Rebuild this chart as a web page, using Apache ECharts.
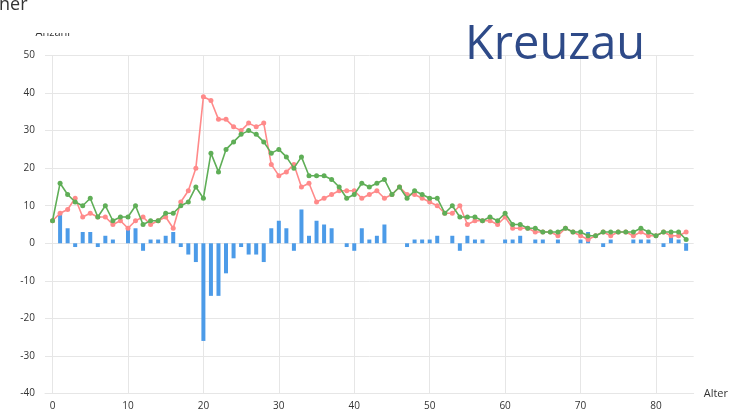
<!DOCTYPE html>
<html>
<head>
<meta charset="utf-8">
<script src="https://cdn.jsdelivr.net/npm/echarts@6/dist/echarts.min.js"></script>
<style>html,body{margin:0;padding:0;background:#fff;}#c{width:731px;height:412px;}</style>
</head>
<body>
<div id="c"></div>
<script>
const ages = [0,1,2,3,4,5,6,7,8,9,10,11,12,13,14,15,16,17,18,19,20,21,22,23,24,25,26,27,28,29,30,31,32,33,34,35,36,37,38,39,40,41,42,43,44,45,46,47,48,49,50,51,52,53,54,55,56,57,58,59,60,61,62,63,64,65,66,67,68,69,70,71,72,73,74,75,76,77,78,79,80,81,82,83,84];
const redValues = [6,8,9,12,7,8,7,7,5,6,4,6,7,5,6,7,4,11,14,20,39,38,33,33,31,30,32,31,32,21,18,19,21,15,16,11,12,13,14,14,14,12,13,14,12,13,15,13,13,12,11,10,8,8,10,5,6,6,6,5,7,4,4,4,3,3,3,2,4,3,2,1,2,3,2,3,3,2,3,2,2,3,2,2,3];
const greenValues = [6,16,13,11,10,12,7,10,6,7,7,10,5,6,6,8,8,10,11,15,12,24,19,25,27,29,30,29,27,24,25,23,20,23,18,18,18,17,15,12,13,16,15,16,17,13,15,12,14,13,12,12,8,10,7,7,7,6,7,6,8,5,5,4,4,3,3,3,4,3,3,2,2,3,3,3,3,3,4,3,2,3,3,3,1];
const barValues = [0,8,4,-1,3,3,-1,2,1,0,4,4,-2,1,1,2,3,-1,-3,-5,-26,-14,-14,-8,-4,-1,-3,-3,-5,4,6,4,-2,9,2,6,5,4,0,-1,-2,4,1,2,5,0,0,-1,1,1,1,2,0,2,-2,2,1,1,0,0,1,1,2,0,1,1,0,1,0,0,1,3,0,-1,1,0,0,1,1,1,0,-1,2,1,-2];
const yTicks = [-40,-30,-20,-10,0,10,20,30,40,50];

const pair = arr => ages.map((a, i) => [a, arr[i]]);
const chart = echarts.init(document.getElementById('c'), null, {renderer: 'canvas'});
const font = '"Open Sans", "Noto Sans", sans-serif';
chart.setOption({
  animation: false,
  backgroundColor: '#fff',
  grid: {left: 45, right: 34, top: 55.5, bottom: 18.5, containLabel: false},
  xAxis: {
    type: 'value', min: -1, max: 85, splitNumber: 9,
    name: 'Alter', nameLocation: 'end', nameGap: 10,
    nameTextStyle: {color: '#333', fontSize: 11, fontFamily: font},
    axisLine: {show: true, onZero: false, lineStyle: {color: '#e6e6e6'}},
    axisTick: {show: false},
    axisLabel: {color: '#333', fontSize: 10, fontFamily: font, margin: 8, showMinLabel: false, showMaxLabel: false},
    splitLine: {show: true, showMinLine: false, showMaxLine: false, lineStyle: {color: '#e6e6e6'}}
  },
  yAxis: {
    type: 'value', min: yTicks[0], max: yTicks[yTicks.length - 1], interval: 10,
    name: 'Anzahl', nameLocation: 'end', nameGap: 17,
    nameTextStyle: {color: '#333', fontSize: 11, fontFamily: font, align: 'left', padding: [0, 0, 0, -17]},
    axisLine: {show: false},
    axisTick: {show: false},
    axisLabel: {color: '#333', fontSize: 10, fontFamily: font, margin: 10},
    splitLine: {show: true, lineStyle: {color: '#e6e6e6'}}
  },
  graphic: [
    {type: 'rect', shape: {x: 20, y: 16, width: 70, height: 17}, style: {fill: '#fff'}, z: 100},
    {type: 'text', left: -1, top: -4, style: {text: 'ner', fontSize: 18, fontFamily: font, fill: '#333'}, z: 101},
    {type: 'text', left: 465, top: 22, style: {text: 'Kreuzau', fontSize: 47, fontFamily: font, fill: '#2e4a88'}, z: 101}
  ],
  series: [
    {name: 'Saldo', type: 'bar', data: pair(barValues), barWidth: 4, itemStyle: {color: '#4c9be8'}, z: 1},
    {name: 'Fortzüge', type: 'line', data: pair(redValues), symbol: 'circle', symbolSize: 5,
     lineStyle: {color: '#ff8a8a', width: 1.6}, itemStyle: {color: '#ff8a8a'}, z: 2},
    {name: 'Zuzüge', type: 'line', data: pair(greenValues), symbol: 'circle', symbolSize: 5,
     lineStyle: {color: '#5fae57', width: 1.6}, itemStyle: {color: '#5fae57'}, z: 3}
  ]
});
</script>
</body>
</html>
